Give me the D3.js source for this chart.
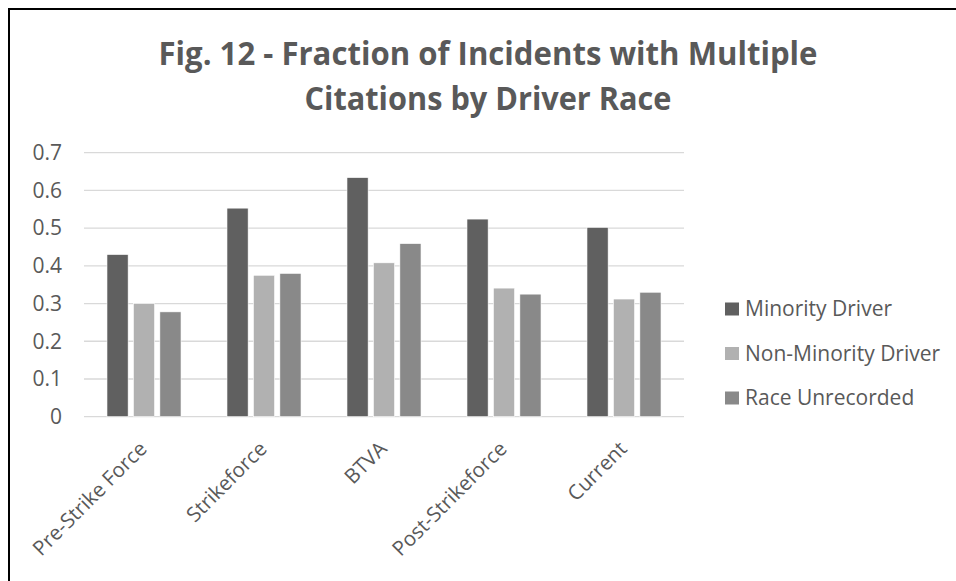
<!DOCTYPE html>
<html>
<head>
<meta charset="utf-8">
<script src="https://cdn.jsdelivr.net/npm/d3@7"></script>
<style>
  html, body { margin: 0; padding: 0; background: #fff; }
  svg { display: block; }
</style>
</head>
<body>
<script>
const periods = ["Pre-Strike Force", "Strikeforce", "BTVA", "Post-Strikeforce", "Current"];
const seriesNames = ["Minority Driver", "Non-Minority Driver", "Race Unrecorded"];
const minorityDriver = [0.43, 0.553, 0.634, 0.524, 0.502];
const nonMinorityDriver = [0.30, 0.375, 0.408, 0.341, 0.312];
const raceUnrecorded = [0.278, 0.380, 0.459, 0.325, 0.330];
const yTicks = [0, 0.1, 0.2, 0.3, 0.4, 0.5, 0.6, 0.7];
const titleLines = ["Fig. 12 - Fraction of Incidents with Multiple", "Citations by Driver Race"];

const seriesValues = [minorityDriver, nonMinorityDriver, raceUnrecorded];
const colors = ["#606060", "#b1b1b1", "#898989"];
const font = "'Open Sans', 'DejaVu Sans', sans-serif";
const textColor = "#595959";

const W = 956, H = 581;
const svg = d3.select("body").append("svg").attr("width", W).attr("height", H);

// outer frame (right/bottom edges fall outside the window)
svg.append("rect")
  .attr("x", 9).attr("y", 9).attr("width", 960).attr("height", 590)
  .attr("fill", "#fff").attr("stroke", "#000").attr("stroke-width", 2);

// title
const titleWidths = [659, 367];
titleLines.forEach((t, i) => {
  svg.append("text")
    .attr("x", 488).attr("y", 65 + i * 45)
    .attr("text-anchor", "middle")
    .attr("font-family", font).attr("font-weight", "bold")
    .attr("font-size", 32).attr("fill", textColor)
    .attr("textLength", titleWidths[i]).attr("lengthAdjust", "spacingAndGlyphs")
    .text(t);
});

const x0 = d3.scaleBand().domain(periods).range([84, 684]).paddingInner(0.383).paddingOuter(0.1915);
const x1 = d3.scaleBand().domain(seriesNames).range([0, x0.bandwidth()]).paddingInner(0.2).paddingOuter(0);
const y = d3.scaleLinear().domain([0, 0.7]).range([416.7, 152.7]);

// gridlines
svg.append("g").selectAll("line").data(yTicks).join("line")
  .attr("x1", 84).attr("x2", 684)
  .attr("y1", d => y(d)).attr("y2", d => y(d))
  .attr("stroke", "#d9d9d9").attr("stroke-width", 1.3);

// y axis labels
const yAxis = svg.append("g").attr("transform", "translate(71,0)")
  .call(d3.axisLeft(y).tickValues(yTicks).tickSize(0).tickPadding(9).tickFormat(d => d === 0 ? "0" : d3.format(".1f")(d)));
yAxis.select(".domain").remove();
yAxis.selectAll("text").attr("font-family", font).attr("font-size", 21).attr("fill", textColor);

// bars
const groups = svg.append("g").selectAll("g").data(periods).join("g")
  .attr("transform", d => `translate(${x0(d)},0)`);
groups.selectAll("rect")
  .data((p, i) => seriesNames.map((s, j) => ({ s, v: seriesValues[j][i], j })))
  .join("rect")
  .attr("x", d => x1(d.s))
  .attr("width", x1.bandwidth())
  .attr("y", d => y(d.v))
  .attr("height", d => y(0) - y(d.v))
  .attr("fill", d => colors[d.j])
  .attr("stroke", "#fff").attr("stroke-width", 0.6);

// x axis labels rotated
svg.append("g").selectAll("text").data(periods).join("text")
  .attr("transform", d => `translate(${x0(d) + x0.bandwidth() / 2 - 1},${445}) rotate(-45)`)
  .attr("text-anchor", "end")
  .attr("dy", "0.35em")
  .attr("font-family", font).attr("font-size", 20.5).attr("fill", textColor)
  .text(d => d);

// legend
const legend = svg.append("g").selectAll("g").data(seriesNames).join("g")
  .attr("transform", (d, i) => `translate(725,${309 + i * 44.5})`);
legend.append("rect")
  .attr("x", 0).attr("y", -6.5).attr("width", 14).attr("height", 13)
  .attr("fill", (d, i) => colors[i]);
legend.append("text")
  .attr("x", 20).attr("dy", "0.35em")
  .attr("font-family", font).attr("font-size", 21).attr("fill", textColor)
  .text(d => d);
</script>
</body>
</html>
